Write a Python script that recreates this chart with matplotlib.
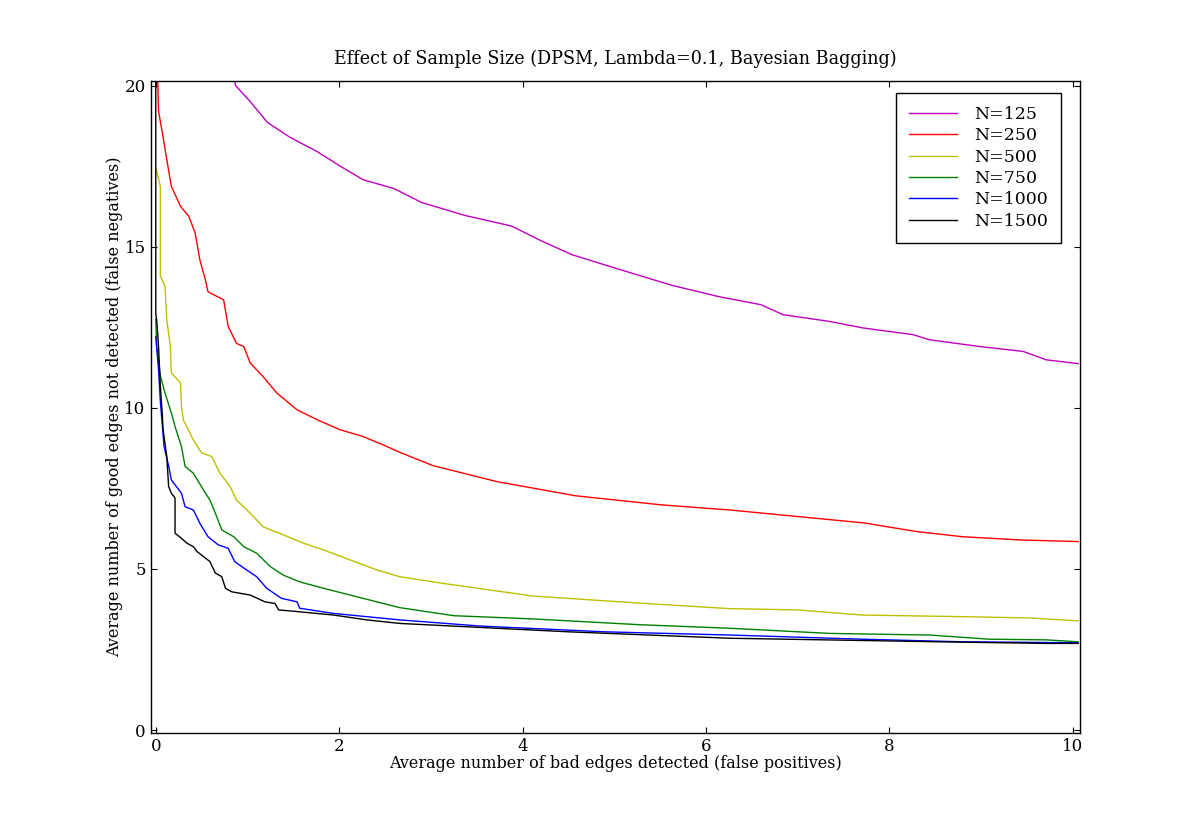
import matplotlib
matplotlib.use("Agg")
import matplotlib.pyplot as plt
from matplotlib import font_manager

# Values
fp_125 = [0.85, 0.87, 1.03, 1.22, 1.46, 1.76, 2.01, 2.26, 2.6, 2.9, 3.37, 3.88, 4.19, 4.54,
          5.05, 5.63, 6.14, 6.6, 6.84, 7.35, 7.71, 8.26, 8.44, 8.99, 9.46, 9.71, 10.06]
fn_125 = [20.3, 20.0, 19.5, 18.85, 18.4, 17.95, 17.5, 17.08, 16.8, 16.37, 15.97, 15.64, 15.2,
          14.75, 14.3, 13.8, 13.45, 13.2, 12.89, 12.68, 12.48, 12.27, 12.11, 11.9, 11.75, 11.49, 11.37]

fp_250 = [0.02, 0.03, 0.08, 0.12, 0.17, 0.27, 0.36, 0.43, 0.48, 0.54, 0.57, 0.74, 0.79, 0.88,
          0.96, 1.03, 1.17, 1.32, 1.54, 1.76, 2.01, 2.26, 2.48, 2.66, 3.02, 3.72, 4.58, 5.51,
          6.26, 7.17, 7.72, 8.3, 8.8, 9.43, 10.06]
fn_250 = [20.3, 19.2, 18.4, 17.7, 16.87, 16.25, 15.94, 15.42, 14.6, 13.98, 13.6, 13.35, 12.52,
          12.0, 11.9, 11.39, 10.97, 10.46, 9.94, 9.63, 9.32, 9.11, 8.85, 8.62, 8.21, 7.71, 7.27,
          6.99, 6.83, 6.58, 6.43, 6.16, 6.0, 5.9, 5.85]

fp_500 = [0.0, 0.01, 0.05, 0.05, 0.1, 0.12, 0.16, 0.17, 0.27, 0.28, 0.3, 0.41, 0.5, 0.61, 0.7,
          0.81, 0.88, 1.03, 1.17, 1.39, 1.61, 1.83, 2.12, 2.41, 2.66, 3.14, 4.11, 5.28, 6.25,
          6.99, 7.71, 8.8, 9.53, 10.06]
fn_500 = [17.4, 17.34, 16.87, 14.08, 13.77, 12.73, 11.9, 11.08, 10.77, 10.04, 9.63, 9.0, 8.6,
          8.49, 7.97, 7.56, 7.14, 6.73, 6.31, 6.06, 5.8, 5.59, 5.28, 4.97, 4.76, 4.55, 4.16, 3.94,
          3.77, 3.73, 3.57, 3.52, 3.48, 3.39]

fp_750 = [0.0, 0.01, 0.05, 0.1, 0.17, 0.21, 0.28, 0.32, 0.41, 0.52, 0.59, 0.65, 0.72, 0.85, 0.96,
          1.1, 1.25, 1.39, 1.57, 1.83, 2.12, 2.41, 2.66, 3.25, 4.11, 5.28, 6.26, 7.35, 8.44, 9.1,
          9.71, 10.06]
fn_750 = [12.75, 11.9, 11.0, 10.46, 9.84, 9.42, 8.8, 8.18, 7.97, 7.45, 7.14, 6.73, 6.21, 6.0,
          5.69, 5.49, 5.07, 4.81, 4.6, 4.4, 4.19, 3.98, 3.8, 3.55, 3.45, 3.27, 3.16, 3.0, 2.95,
          2.82, 2.8, 2.74]

fp_1000 = [0.0, 0.03, 0.05, 0.07, 0.09, 0.14, 0.17, 0.28, 0.32, 0.41, 0.48, 0.57, 0.68, 0.79,
           0.86, 0.99, 1.1, 1.21, 1.37, 1.54, 1.57, 1.94, 2.3, 2.66, 3.53, 4.89, 6.26, 7.71, 8.8,
           10.06]
fn_1000 = [12.2, 11.18, 10.2, 9.5, 8.8, 8.2, 7.76, 7.35, 6.93, 6.83, 6.42, 6.0, 5.75, 5.64, 5.23,
           4.97, 4.76, 4.4, 4.09, 3.98, 3.78, 3.62, 3.52, 3.42, 3.23, 3.05, 2.95, 2.82, 2.74, 2.71]

fp_1500 = [0.0, 0.0, 0.01, 0.03, 0.05, 0.07, 0.08, 0.12, 0.14, 0.17, 0.21, 0.21, 0.28, 0.34,
           0.41, 0.45, 0.59, 0.65, 0.72, 0.76, 0.83, 1.03, 1.19, 1.3, 1.34, 1.57, 1.94, 2.3, 2.66,
           4.5, 6.26, 8.55, 9.71, 10.06]
fn_1500 = [20.3, 12.9, 12.73, 11.9, 10.66, 9.84, 9.32, 8.49, 7.56, 7.35, 7.2, 6.11, 5.95, 5.8,
           5.69, 5.54, 5.23, 4.87, 4.76, 4.4, 4.29, 4.19, 3.98, 3.93, 3.73, 3.67, 3.57, 3.42, 3.31,
           3.05, 2.85, 2.74, 2.69, 2.69]

labels = ["N=125", "N=250", "N=500", "N=750", "N=1000", "N=1500"]
colors = [(0.75, 0, 0.75), "r", (0.75, 0.75, 0), (0, 0.5, 0), "b", "k"]

names = set(f.name for f in font_manager.fontManager.ttflist)
title_font = "DejaVu Serif Condensed" if "DejaVu Serif Condensed" in names else "DejaVu Serif"

plt.rcParams["font.family"] = "DejaVu Serif"
plt.rcParams["font.size"] = 12
plt.rcParams["xtick.direction"] = "in"
plt.rcParams["ytick.direction"] = "in"
plt.rcParams["xtick.top"] = True
plt.rcParams["ytick.right"] = True

fig = plt.figure(figsize=(12, 8.15), dpi=100)
ax = fig.add_axes([0.126, 0.101, 0.774, 0.8])

xs = [fp_125, fp_250, fp_500, fp_750, fp_1000, fp_1500]
ys = [fn_125, fn_250, fn_500, fn_750, fn_1000, fn_1500]
for x, y, c, lab in zip(xs, ys, colors, labels):
    ax.plot(x, y, color=c, lw=1.0, label=lab)

ax.set_xlim(-0.05, 10.08)
ax.set_ylim(-0.08, 20.15)
ax.set_xticks([0, 2, 4, 6, 8, 10])
ax.set_yticks([0, 5, 10, 15, 20])
ax.tick_params(length=4, width=0.8, pad=4)
for s in ax.spines.values():
    s.set_linewidth(1.0)

ax.set_xlabel("Average number of bad edges detected (false positives)",
              fontsize=11.5, labelpad=0)
ax.set_ylabel("Average number of good edges not detected (false negatives)",
              fontsize=11.5, labelpad=1)
ax.set_title("Effect of Sample Size (DPSM, Lambda=0.1, Bayesian Bagging)",
             fontsize=14, family=title_font, fontstretch="condensed", pad=12)

leg = ax.legend(loc="upper right", bbox_to_anchor=(0.98, 0.981), borderaxespad=0,
                fancybox=False, framealpha=1, edgecolor="k", fontsize=12.5,
                handlelength=2.75, handletextpad=1.0, labelspacing=0.25, borderpad=0.75)
leg.get_frame().set_linewidth(1.0)

fig.savefig("out.png", dpi=100)
